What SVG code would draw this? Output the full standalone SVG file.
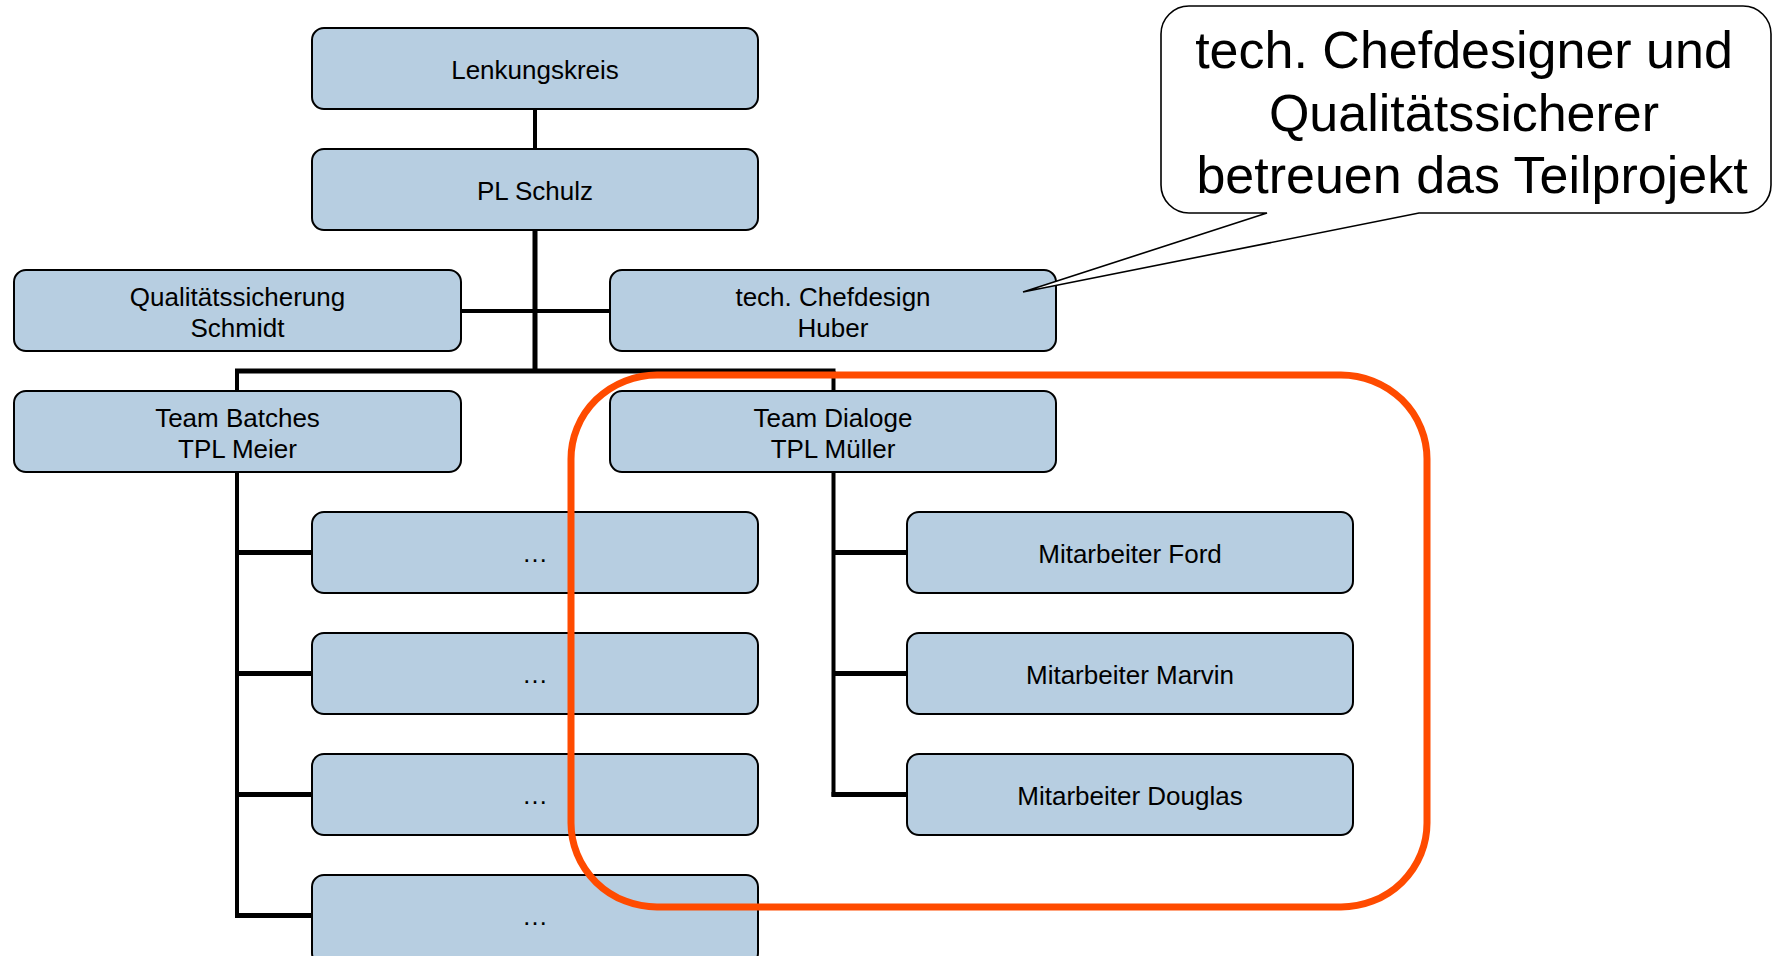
<svg xmlns="http://www.w3.org/2000/svg" width="1774" height="956" viewBox="0 0 1774 956">
  <style>
    .box { fill: #B7CEE1; stroke: #000; stroke-width: 2; }
    .lbl { font-family: "Liberation Sans", Arial, sans-serif; font-size: 26px; fill: #000; text-anchor: middle; }
    .con { stroke: #000; stroke-width: 4; fill: none; stroke-linecap: butt; }
    .bus { stroke: #000; stroke-width: 5; fill: none; }
    .callout { fill: #fff; stroke: #000; stroke-width: 1.6; stroke-linejoin: miter; }
    .ctext { font-family: "Liberation Sans", Arial, sans-serif; font-size: 52px; fill: #000; text-anchor: middle; }
  </style>
  <rect width="1774" height="956" fill="#fff"/>

  <g id="connectors">
    <line class="con" x1="535" y1="109" x2="535" y2="149"/>
    <line class="bus" x1="535" y1="230" x2="535" y2="371"/>
    <line class="con" x1="461" y1="311" x2="610" y2="311"/>
    <line class="bus" x1="235" y1="371" x2="835.5" y2="371"/>
    <line class="con" x1="237" y1="371" x2="237" y2="391"/>
    <line class="con" x1="833.5" y1="371" x2="833.5" y2="391"/>
    <polyline class="con" points="237,472 237,917.5"/>
    <line class="bus" x1="237" y1="552.5" x2="312" y2="552.5"/>
    <line class="bus" x1="237" y1="673.5" x2="312" y2="673.5"/>
    <line class="bus" x1="237" y1="794.5" x2="312" y2="794.5"/>
    <line class="bus" x1="235" y1="915.5" x2="312" y2="915.5"/>
    <polyline class="con" points="833.5,472 833.5,796.5"/>
    <line class="bus" x1="833.5" y1="552.5" x2="907" y2="552.5"/>
    <line class="bus" x1="833.5" y1="673.5" x2="907" y2="673.5"/>
    <line class="bus" x1="831.5" y1="794.5" x2="907" y2="794.5"/>
  </g>

  <g id="lenkungskreis">
    <rect class="box" x="312" y="28" width="446" height="81" rx="12"/>
    <text class="lbl" x="535" y="78.5">Lenkungskreis</text>
  </g>
  <g id="pl-schulz">
    <rect class="box" x="312" y="149" width="446" height="81" rx="12"/>
    <text class="lbl" x="535" y="199.5">PL Schulz</text>
  </g>
  <g id="qualitaetssicherung">
    <rect class="box" x="14" y="270" width="447" height="81" rx="12"/>
    <text class="lbl" x="237.5" y="306">Qualitätssicherung</text>
    <text class="lbl" x="237.5" y="337">Schmidt</text>
  </g>
  <g id="chefdesign">
    <rect class="box" x="610" y="270" width="446" height="81" rx="12"/>
    <text class="lbl" x="833" y="306">tech. Chefdesign</text>
    <text class="lbl" x="833" y="337">Huber</text>
  </g>
  <g id="team-batches">
    <rect class="box" x="14" y="391" width="447" height="81" rx="12"/>
    <text class="lbl" x="237.5" y="427">Team Batches</text>
    <text class="lbl" x="237.5" y="458">TPL Meier</text>
  </g>
  <g id="team-dialoge">
    <rect class="box" x="610" y="391" width="446" height="81" rx="12"/>
    <text class="lbl" x="833" y="427">Team Dialoge</text>
    <text class="lbl" x="833" y="458">TPL Müller</text>
  </g>
  <g id="batches-1">
    <rect class="box" x="312" y="512" width="446" height="81" rx="12"/>
    <text class="lbl" x="535" y="562">…</text>
  </g>
  <g id="batches-2">
    <rect class="box" x="312" y="633" width="446" height="81" rx="12"/>
    <text class="lbl" x="535" y="683">…</text>
  </g>
  <g id="batches-3">
    <rect class="box" x="312" y="754" width="446" height="81" rx="12"/>
    <text class="lbl" x="535" y="804">…</text>
  </g>
  <g id="batches-4">
    <rect class="box" x="312" y="875" width="446" height="90" rx="12"/>
    <text class="lbl" x="535" y="925">…</text>
  </g>
  <g id="ford">
    <rect class="box" x="907" y="512" width="446" height="81" rx="12"/>
    <text class="lbl" x="1130" y="563">Mitarbeiter Ford</text>
  </g>
  <g id="marvin">
    <rect class="box" x="907" y="633" width="446" height="81" rx="12"/>
    <text class="lbl" x="1130" y="684">Mitarbeiter Marvin</text>
  </g>
  <g id="douglas">
    <rect class="box" x="907" y="754" width="446" height="81" rx="12"/>
    <text class="lbl" x="1130" y="805">Mitarbeiter Douglas</text>
  </g>

  <g id="highlight">
    <rect x="571" y="375" width="856" height="532" rx="86" ry="84" fill="none" stroke="#FF4B00" stroke-width="7"/>
  </g>

  <g id="callout">
    <path class="callout" d="M1189,6 H1743 A28,28 0 0 1 1771,34 V185 A28,28 0 0 1 1743,213 H1419 L1023,292 L1267,213 H1189 A28,28 0 0 1 1161,185 V34 A28,28 0 0 1 1189,6 Z"/>
    <text class="ctext" x="1464" y="68">tech. Chefdesigner und</text>
    <text class="ctext" x="1464" y="130.5">Qualitätssicherer</text>
    <text class="ctext" x="1472" y="193">betreuen das Teilprojekt</text>
  </g>
</svg>
